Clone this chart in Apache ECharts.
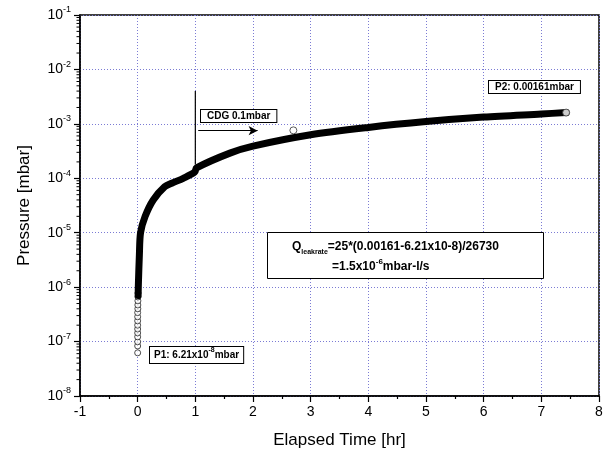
<!DOCTYPE html>
<html>
<head>
<meta charset="utf-8">
<script src="https://cdn.jsdelivr.net/npm/echarts@6/dist/echarts.min.js"></script>
<style>
html, body { margin: 0; padding: 0; background: #fff; }
#main { width: 613px; height: 458px; }
</style>
</head>
<body>
<div id="main"></div>
<script>
// pressure rise (time in hr, pressure in mbar)
var curveTime  = [0.008, 0.012, 0.03, 0.05, 0.13, 0.27, 0.47, 0.59, 0.79, 0.99, 1.02, 1.6, 2.0, 3.0, 4.0, 5.0, 6.0, 7.0, 7.43];
var curvePress = [7e-7, 1.1e-6, 4e-6, 1e-5, 2e-5, 4e-5, 7e-5, 8.1e-5, 1.0e-4, 1.3e-4, 1.55e-4, 2.9e-4, 3.9e-4, 6.3e-4, 8.6e-4, 1.1e-3, 1.33e-3, 1.52e-3, 1.61e-3];

// single open circles at the start of the run
var startTime  = [0, 0, 0, 0, 0, 0, 0, 0, 0, 0, 0.003, 0.003, 0.004, 0.005, 0.006];
var startPress = [6.21e-8, 8.3e-8, 9.9e-8, 1.22e-7, 1.44e-7, 1.7e-7, 2.0e-7, 2.4e-7, 2.85e-7, 3.4e-7, 4.0e-7, 4.7e-7, 5.6e-7, 6.6e-7, 7.8e-7];

// loose points (outlier and last reading P2)
var looseTime  = [2.7, 7.43];
var loosePress = [7.6e-4, 1.61e-3];

// CDG switch marker
var cdgTime = 1;
var cdgTop = 4e-3, cdgBottom = 1.8e-4;
var cdgArrowFrom = 1.05, cdgArrowTo = 2.08, cdgArrowPress = 7.5e-4;

var xMin = -1, xMax = 8;
var yMinExp = -8, yMaxExp = -1;

var font = '"Liberation Sans", Arial, sans-serif';

function pairs(xs, ys) {
    return xs.map(function (x, i) { return [x, ys[i]]; });
}

var option = {
    backgroundColor: '#fff',
    animation: false,
    textStyle: { fontFamily: font },
    grid: {
        left: 80, right: 14, top: 15, bottom: 62,
        show: true, borderColor: '#000', borderWidth: 1.5, backgroundColor: 'transparent'
    },
    xAxis: {
        type: 'value',
        min: xMin, max: xMax, interval: 1,
        name: 'Elapsed Time [hr]',
        nameLocation: 'middle',
        nameGap: 36,
        nameTextStyle: { fontSize: 17, color: '#000', fontFamily: font },
        axisLine: { onZero: false, lineStyle: { color: '#000', width: 1.5 } },
        axisTick: { length: 6, lineStyle: { color: '#000', width: 1.2 } },
        minorTick: { show: true, splitNumber: 2, length: 3, lineStyle: { color: '#000', width: 1.2 } },
        axisLabel: { fontSize: 14, color: '#000', margin: 9, fontFamily: font },
        splitLine: { show: true, lineStyle: { color: '#7b7bd4', width: 1, type: [1, 2] } }
    },
    yAxis: {
        type: 'log',
        logBase: 10,
        min: Math.pow(10, yMinExp), max: Math.pow(10, yMaxExp),
        interval: 1,
        name: 'Pressure [mbar]',
        nameLocation: 'middle',
        nameGap: 47,
        nameTextStyle: { fontSize: 17, color: '#000', fontFamily: font },
        axisLine: { show: true, onZero: false, lineStyle: { color: '#000', width: 1.5 } },
        axisTick: { length: 6, lineStyle: { color: '#000', width: 1.2 } },
        axisLabel: {
            margin: 9,
            formatter: function (v) {
                var e = Math.round(Math.log(v) / Math.LN10);
                return '{b|10}{e|' + e + '}';
            },
            rich: {
                b: { fontSize: 14, color: '#000', fontFamily: font, lineHeight: 19 },
                e: { fontSize: 9, color: '#000', fontFamily: font, lineHeight: 10, verticalAlign: 'top' }
            }
        },
        splitLine: { show: true, lineStyle: { color: '#7b7bd4', width: 1, type: [1, 2] } }
    },
    series: [
        {
            name: 'start',
            type: 'scatter',
            z: 1,
            symbol: 'circle',
            symbolSize: 6,
            itemStyle: { color: '#fff', borderColor: '#222', borderWidth: 1 },
            data: pairs(startTime, startPress)
        },
        {
            name: 'pressure',
            type: 'line',
            z: 2,
            smooth: 0.3,
            showSymbol: false,
            symbol: 'none',
            lineStyle: { color: '#000', width: 7, cap: 'round', join: 'round' },
            data: pairs(curveTime, curvePress),
            markLine: {
                silent: true,
                symbol: ['none', 'arrow'],
                symbolSize: [7, 9],
                label: { show: false },
                lineStyle: { color: '#000', width: 1.2, type: 'solid' },
                data: [
                    [{ coord: [cdgArrowFrom, cdgArrowPress] }, { coord: [cdgArrowTo, cdgArrowPress] }]
                ]
            }
        },
        {
            name: 'cdg',
            type: 'line',
            z: 3,
            symbol: 'none',
            lineStyle: { color: '#000', width: 1.2 },
            data: [[cdgTime, cdgTop], [cdgTime, cdgBottom]]
        },
        {
            name: 'loose',
            type: 'scatter',
            z: 4,
            symbol: 'circle',
            symbolSize: 7,
            itemStyle: { color: '#fff', borderColor: '#333', borderWidth: 1 },
            data: pairs(looseTime, loosePress)
        }
    ]
};

var chart = echarts.init(document.getElementById('main'));
chart.setOption(option);

// log minor ticks (2..9 per decade), outward on the left axis
var axisX = chart.convertToPixel({ xAxisIndex: 0 }, xMin);
var graphics = [];
for (var k = yMinExp; k < yMaxExp; k++) {
    for (var m = 2; m <= 9; m++) {
        var py = chart.convertToPixel({ yAxisIndex: 0 }, m * Math.pow(10, k));
        graphics.push({
            type: 'line', z: 10,
            shape: { x1: axisX - 3.5, y1: py, x2: axisX, y2: py },
            style: { stroke: '#000', lineWidth: 1 }
        });
    }
}

var boxStyle = {
    fill: '#000', backgroundColor: '#fff', borderColor: '#000', borderWidth: 1
};

// CDG label
graphics.push({
    type: 'text', left: 200, top: 109, z: 20,
    style: Object.assign({ text: 'CDG 0.1mbar', font: 'bold 10px ' + font, padding: [1, 6, 1, 6] }, boxStyle)
});
// P2 label
graphics.push({
    type: 'text', left: 488, top: 80, z: 20,
    style: Object.assign({ text: 'P2: 0.00161mbar', font: 'bold 10px ' + font, padding: [1, 6, 1, 6] }, boxStyle)
});
// P1 label
graphics.push({
    type: 'text', left: 149, top: 346, z: 20,
    style: Object.assign({
        text: '{t|P1: 6.21x10}{s|-8}{t|mbar}',
        padding: [0, 4, 0, 4],
        rich: {
            t: { font: 'bold 10px ' + font, lineHeight: 16 },
            s: { font: 'bold 7px ' + font, lineHeight: 9, verticalAlign: 'top' }
        }
    }, boxStyle)
});
// leak rate box
graphics.push({
    type: 'rect', z: 20,
    shape: { x: 267.5, y: 232.5, width: 276, height: 46 },
    style: { fill: '#fff', stroke: '#000', lineWidth: 1 }
});
graphics.push({
    type: 'text', x: 292, y: 238, z: 21,
    style: {
        text: '{t|Q}{s|leakrate}{t|=25*(0.00161-6.21x10-8)/26730}',
        rich: {
            t: { font: 'bold 12px ' + font, fill: '#000', lineHeight: 18 },
            s: { font: 'bold 7px ' + font, fill: '#000', lineHeight: 9, verticalAlign: 'bottom' }
        }
    }
});
graphics.push({
    type: 'text', x: 332, y: 258, z: 21,
    style: {
        text: '{t|=1.5x10}{e|-6}{t|mbar-l/s}',
        rich: {
            t: { font: 'bold 12px ' + font, fill: '#000', lineHeight: 18 },
            e: { font: 'bold 8px ' + font, fill: '#000', lineHeight: 10, verticalAlign: 'top' }
        }
    }
});

chart.setOption({ graphic: graphics });
</script>
</body>
</html>
